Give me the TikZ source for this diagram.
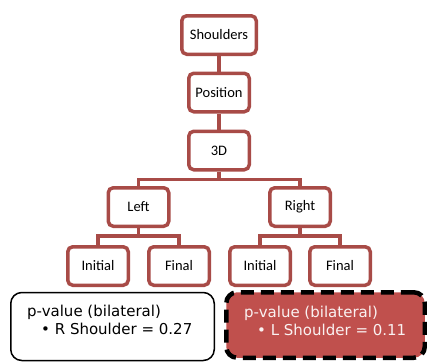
\documentclass[tikz,border=0pt]{standalone}
\usepackage{fontspec}
\newfontfamily\treefont{Carlito}
\newfontfamily\notefont{DejaVu Sans}
\usetikzlibrary{positioning}
\definecolor{treeline}{HTML}{A84B47}
\definecolor{notered}{HTML}{C0504D}
\tikzset{
  level/.style={rectangle, rounded corners=5pt, draw=treeline, line width=3.5pt, fill=white,
    minimum width=60.5pt, minimum height=38.5pt, inner sep=0, text centered,
    font=\treefont\fontsize{14.5}{16}\selectfont},
  link/.style={draw=treeline, line width=3.5pt},
  note/.style={rectangle, rounded corners=11pt, draw=black, line width=1.5pt,
    minimum width=203.5pt, minimum height=68pt, inner sep=0},
  notetext/.style={anchor=north west, inner sep=0, align=left,
    font=\notefont\fontsize{15}{18}\selectfont}
}

\begin{document}
\begin{tikzpicture}[x=1pt, y=-1pt]
      \useasboundingbox (0, 0) rectangle (427, 362);
      \node[level, minimum width=74.5pt](sh) at (219, 35){Shoulders};
      \node[level](pos) at (219, 92.5){Position};
      \node[level](d3) at (219, 150.5){3D};
      \draw[link](sh)--(pos);
      \draw[link](pos)--(d3);

      \node[level](left) at (138.5, 207){Left};
      \node[level](right) at (300, 207){Right};
      \draw[link](d3.south)--++(0, 8)-|(left.north);
      \draw[link](d3.south)--++(0, 8)-|(right.north);

      \node[level](li) at (98, 266){Initial};
      \node[level](lf) at (179, 266){Final};
      \node[level](ri) at (260, 266){Initial};
      \node[level](rf) at (340, 266){Final};
      \draw[link](left.south)--++(0, 8)-|(li.north);
      \draw[link](left.south)--++(0, 8)-|(lf.north);
      \draw[link](right.south)--++(0, 8)-|(ri.north);
      \draw[link](right.south)--++(0, 8)-|(rf.north);

      \node[note, fill=white](nl) at (112.5, 326.5){};
      \node[notetext](tl) at (27, 304.5){p-value (bilateral)\\\hspace{14pt}•\ R Shoulder = 0.27};
      \node[note, fill=notered, line width=4.5pt, dash pattern=on 13pt off 7pt,
        minimum width=198.5pt, minimum height=65.5pt](nr) at (325.5, 325){};
      \node[notetext, text=white!92!notered](tr) at (244, 305.5){p-value (bilateral)\\\hspace{13pt}•\ L Shoulder = 0.11};
    \end{tikzpicture}
\end{document}
